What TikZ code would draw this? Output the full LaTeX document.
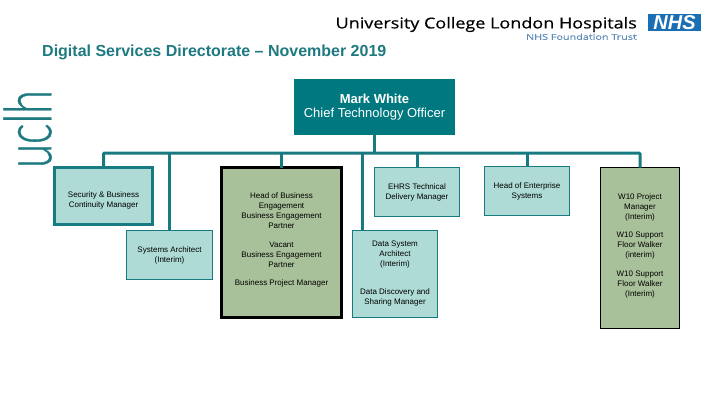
\documentclass[tikz,border=0pt]{standalone}
\usepackage{fontspec}
\setmainfont{Liberation Sans}
\newfontfamily\trustfont[FakeStretch=1.2,FakeBold=0.5]{Open Sans}
\newfontfamily\foundfont[FakeStretch=1.35,FakeBold=0.3]{Open Sans}
\newfontfamily\thinfont[FakeStretch=0.66,FakeBold=0.5]{Lato Light}
\usetikzlibrary{positioning}
\definecolor{uclhteal}{RGB}{0,120,128}
\definecolor{linkteal}{RGB}{23,122,128}
\definecolor{titleteal}{RGB}{30,122,128}
\definecolor{paleteal}{RGB}{174,219,213}
\definecolor{palegreen}{RGB}{169,193,154}
\definecolor{nhsblue}{RGB}{25,110,180}
\definecolor{trustblue}{RGB}{95,140,185}
\tikzstyle{link} = [line width=3pt,color=linkteal,rounded corners=1pt]
\tikzstyle{post} = [rectangle, anchor=north west, text centered, align=center, inner sep=0pt, outer sep=0pt, font=\fontsize{8}{10}\selectfont]
\tikzstyle{tealpost} = [post, fill=paleteal, draw=linkteal, line width=1pt]
\tikzstyle{greenpost} = [post, fill=palegreen, draw=black, line width=1pt]
\newcommand{\padtop}[1]{\rule{0pt}{#1pt}}
\newcommand{\padbot}[1]{\rule[-#1pt]{0pt}{0pt}}

\begin{document}
\begin{tikzpicture}[x=1pt,y=-1pt]
\useasboundingbox (0,0) rectangle (720,405);

% logos and title
\node[anchor=east, inner sep=0pt, font=\fontsize{15}{15}\selectfont\trustfont] (trust) at (637,24.5) {University College London Hospitals};
\node[inner sep=0pt, text=trustblue, font=\fontsize{8}{8}\selectfont\foundfont, anchor=north east] (found) at (637,33.5) {NHS Foundation Trust};
\node[anchor=north west, fill=nhsblue, text=white, minimum width=53pt, minimum height=17pt, inner sep=0pt, outer sep=0pt, font=\fontsize{20}{20}\selectfont\bfseries\itshape] (nhs) at (648,14) {NHS};
\node[anchor=west, inner sep=0pt, text=titleteal, font=\fontsize{16}{16}\selectfont\bfseries] (title) at (42,52) {Digital Services Directorate -- November 2019};
\node[rotate=90, anchor=south, inner sep=0pt, text=titleteal, font=\fontsize{66}{66}\selectfont\thinfont] (ucl) at (52,129) {uclh};

% posts
\node[anchor=north west, fill=uclhteal, text=white, minimum width=161pt, minimum height=56pt, inner sep=0pt, outer sep=0pt, align=center, font=\fontsize{13}{14.5}\selectfont] (chief) at (294,79) {\textbf{Mark White}\\Chief Technology Officer};

\node[tealpost, line width=3pt, minimum width=98pt, minimum height=57pt] (sec) at (54.5,167.5) {\padtop{15}Security \& Business\\Continuity Manager};
\node[tealpost, minimum width=86pt, minimum height=49pt] (sys) at (126.5,230.5) {Systems Architect\\(Interim)};
\node[greenpost, line width=3pt, minimum width=120pt, minimum height=150pt] (bus) at (221.5,167.5) {Head of Business\\Engagement\\Business Engagement\\Partner\\[8.5pt]Vacant\\Business Engagement\\Partner\\[8.5pt]Business Project Manager\padbot{6}};
\node[tealpost, minimum width=85pt, minimum height=87pt] (dat) at (352.5,230.5) {Data System\\Architect\\(Interim)\\[18pt]Data Discovery and\\Sharing Manager};
\node[tealpost, minimum width=85pt, minimum height=49pt] (ehrs) at (374.5,167.5) {EHRS Technical\\Delivery Manager};
\node[tealpost, minimum width=85pt, minimum height=49pt] (ent) at (484.5,166.5) {Head of Enterprise\\Systems};
\node[greenpost, minimum width=79pt, minimum height=161pt] (win) at (600.5,167.5) {W10 Project\\Manager\\(Interim)\\[8.5pt]W10 Support\\Floor Walker\\(interim)\\[8.5pt]W10 Support\\Floor Walker\\(Interim)\padbot{6}};

% connectors
\coordinate (busbar) at (374.5,153);
\draw[link] (chief.south) -- (busbar);
\draw[link] (sec.north) |- (busbar) -| (win.north);
\foreach \p in {sys,bus,ehrs,ent}
  \draw[link] (\p.north |- busbar) -- (\p.north);
\draw[link] ([xshift=10pt]dat.north west |- busbar) -- ([xshift=10pt]dat.north west);
\end{tikzpicture}
\end{document}
